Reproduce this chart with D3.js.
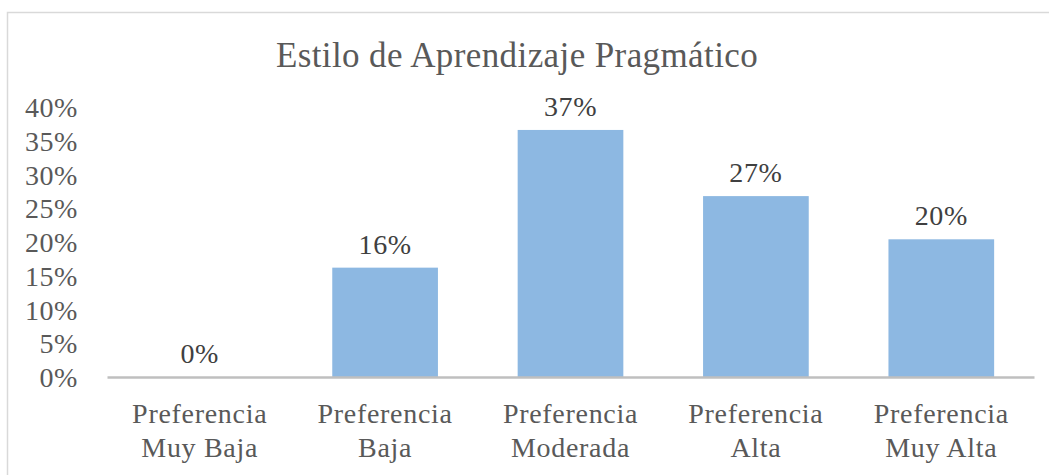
<!DOCTYPE html>
<html>
<head>
<meta charset="utf-8">
<script src="https://cdn.jsdelivr.net/npm/d3@7"></script>
<style>
  body { margin: 0; background: #fff; }
  svg { display: block; }
  text { font-family: "Liberation Serif", "Times New Roman", serif; }
</style>
</head>
<body>
<div id="chart"></div>
<script>
// chart data
var title = "Estilo de Aprendizaje Pragmático";
var categories = [
  ["Preferencia", "Muy Baja"],
  ["Preferencia", "Baja"],
  ["Preferencia", "Moderada"],
  ["Preferencia", "Alta"],
  ["Preferencia", "Muy Alta"]
];
var values = [0, 0.162, 0.366, 0.268, 0.204];
var ticks = [0, 0.05, 0.10, 0.15, 0.20, 0.25, 0.30, 0.35, 0.40];

var width = 1049;
var height = 475;
var plot_left = 107;
var plot_right = 1034;
var plot_top = 107;
var plot_bottom = 377;

var text_grey = "#595959";
var label_grey = "#404040";
var bar_color = "#8db8e2";

var svg = d3.select("#chart").append("svg")
  .attr("width", width)
  .attr("height", height);

// outer frame (runs past the right and bottom edges)
svg.append("rect")
  .attr("x", 7.5)
  .attr("y", 12.5)
  .attr("width", width + 20)
  .attr("height", height + 20)
  .attr("fill", "none")
  .attr("stroke", "#d9d9d9")
  .attr("stroke-width", 1.5);

svg.append("text")
  .attr("x", 517)
  .attr("y", 67)
  .attr("text-anchor", "middle")
  .attr("font-size", 35)
  .attr("letter-spacing", 0.4)
  .attr("fill", text_grey)
  .text(title);

var x = d3.scaleBand()
  .domain(d3.range(categories.length))
  .range([plot_left, plot_right])
  .paddingInner(0.43)
  .paddingOuter(0.215);

var y = d3.scaleLinear()
  .domain([0, 0.4])
  .range([plot_bottom, plot_top]);

var fmt = d3.format(".0%");

// y axis, labels only
var yAxis = d3.axisLeft(y)
  .tickValues(ticks)
  .tickFormat(fmt)
  .tickSize(0)
  .tickPadding(0);

var yg = svg.append("g")
  .attr("transform", "translate(78,0)")
  .call(yAxis);
yg.select(".domain").remove();
yg.selectAll("text")
  .attr("font-family", "Liberation Serif, serif")
  .attr("font-size", 28)
  .attr("letter-spacing", 0.6)
  .attr("fill", text_grey)
  .attr("dy", "0.34em");

// bars
svg.selectAll(".bar")
  .data(values)
  .enter().append("rect")
  .attr("class", "bar")
  .attr("x", function(d, i) { return x(i); })
  .attr("y", function(d) { return y(d); })
  .attr("width", x.bandwidth())
  .attr("height", function(d) { return y(0) - y(d); })
  .attr("fill", bar_color);

// data labels
svg.selectAll(".lbl")
  .data(values)
  .enter().append("text")
  .attr("class", "lbl")
  .attr("x", function(d, i) { return x(i) + x.bandwidth() / 2; })
  .attr("y", function(d) { return y(d) - 14; })
  .attr("text-anchor", "middle")
  .attr("font-size", 28)
  .attr("letter-spacing", 0.6)
  .attr("fill", label_grey)
  .text(function(d) { return fmt(d); });

// x axis line and category labels
var xAxis = d3.axisBottom(x)
  .tickSize(0)
  .tickFormat("");

var xg = svg.append("g")
  .attr("transform", "translate(0," + plot_bottom + ")")
  .call(xAxis);
xg.select(".domain")
  .attr("stroke", "#bfbfbf")
  .attr("stroke-width", 2.5);

var cat = svg.selectAll(".cat")
  .data(categories)
  .enter().append("text")
  .attr("class", "cat")
  .attr("text-anchor", "middle")
  .attr("font-size", 28)
  .attr("letter-spacing", 0.7)
  .attr("fill", text_grey);

cat.selectAll("tspan")
  .data(function(d, i) { return d.map(function(s) { return {s: s, i: i}; }); })
  .enter().append("tspan")
  .attr("x", function(d) { return x(d.i) + x.bandwidth() / 2; })
  .attr("y", function(d, j) { return 423 + j * 34; })
  .text(function(d) { return d.s; });
</script>
</body>
</html>
